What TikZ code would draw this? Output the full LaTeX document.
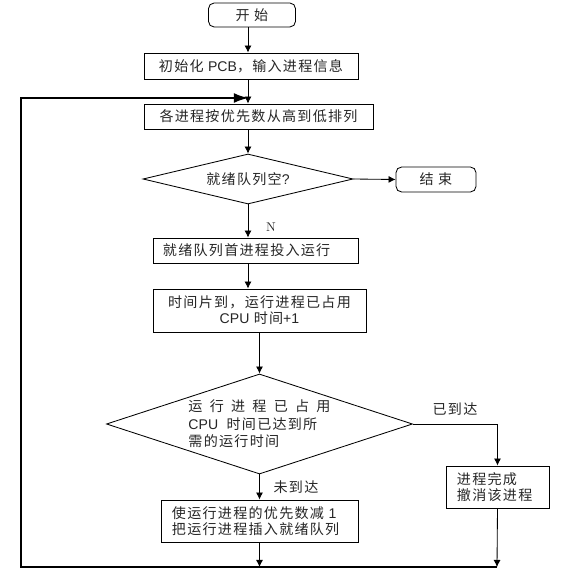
\documentclass[tikz,border=0pt]{standalone}
\usepackage{fontspec}
\newfontfamily\cjk[LetterSpace=9]{Noto Sans CJK SC}
\newfontfamily\enfont{Liberation Sans}
\newcommand{\en}[1]{{\enfont #1}}
\usetikzlibrary{shapes.geometric,arrows.meta}

\begin{document}
\begin{tikzpicture}[x=0.025cm,y=-0.025cm]
    \tikzstyle{every node}+=[inner sep=0pt, text=black!85, font=\cjk\fontsize{10}{11.5}\selectfont]
    \tikzstyle{proc}=[draw, rectangle, line width=0.6pt, align=center]
    \tikzstyle{term}=[proc, rounded corners=4pt]
    \tikzstyle{test}=[draw, diamond, aspect=3, line width=0.6pt]
    \tikzstyle{flow}=[-{Latex[length=5pt,width=5pt]}, line width=0.6pt]
    \tikzstyle{back}=[-{Latex[length=10pt,width=7pt]}, line width=1pt]
    \useasboundingbox (0,0) rectangle (586,578);
    % main column
    \node [term, minimum width=2.175cm, minimum height=0.6cm] (start) at (252,15) {开 始};
    \node [proc, minimum width=5.35cm, minimum height=0.65cm] (init) at (251,66) {初始化 \en{PCB}，输入进程信息};
    \node [proc, minimum width=5.725cm, minimum height=0.625cm] (sort) at (258.5,116.5) {各进程按优先数从高到低排列};
    \node [test, minimum width=5.25cm, minimum height=1.25cm] (empty) at (248,179) {就绪队列空\en{?}};
    \node [term, minimum width=2cm, minimum height=0.625cm] (stop) at (436,179.5) {结 束};
    \node [proc, minimum width=5.125cm, minimum height=0.625cm, text width=4.625cm, align=left] (run) at (255.5,250.5) {就绪队列首进程投入运行};
    \node [proc, minimum width=5.325cm, minimum height=1.075cm] (tick) at (259.5,310.5) {时间片到，运行进程已占用\\\en{CPU} 时间\en{+1}};
    \node [test, minimum width=7.65cm, minimum height=2.5cm, text width=3.55cm, align=left,
           font=\cjk\fontsize{10}{12.5}\selectfont] (reach) at (259.5,424)
        {\makebox[3.55cm]{运\hfill 行\hfill 进\hfill 程\hfill 已\hfill 占\hfill 用}\\
         \en{CPU}\hspace{0.6em}时间已达到所\\
         需的运行时间};
    \node [proc, minimum width=2.575cm, minimum height=1.05cm, text width=2.025cm, align=left] (finish) at (497.5,487) {进程完成\\撤消该进程};
    \node [proc, minimum width=4.925cm, minimum height=1.05cm, text width=4.375cm, align=left] (requeue) at (259.5,521) {使运行进程的优先数减 \en{1}\\把运行进程插入就绪队列};
    % branch labels
    \node [font=\rmfamily\fontsize{9}{10}\selectfont] (no) at (271,227) {N};
    \node (yes2) at (455,409) {已到达};
    \node (no2) at (296,487) {未到达};
    % loop corners
    \coordinate (br) at (497,567);
    \coordinate (bl) at (21,567);
    \coordinate (tl) at (21,98);
    \coordinate (merge) at (248,98);
    % connectors
    \draw [flow] (start.south -| empty.north) -- (init.north -| empty.north);
    \draw [flow] (init.south -| empty.north) -- (sort.north -| empty.north);
    \draw [flow] (sort.south -| empty.north) -- (empty.north);
    \draw [flow] (empty.east) -- (stop.west);
    \draw [flow] (empty.south) -- (run.north -| empty.south);
    \draw [flow] (run.south -| merge) -- (tick.north -| merge);
    \draw [flow] (tick.south -| reach.north) -- (reach.north);
    \draw [flow] (reach.east) -| (finish.north);
    \draw [flow] (reach.south) -- (requeue.north -| reach.south);
    \draw [flow] (requeue.south -| tick.south) -- (br -| tick.south);
    \draw [flow] (finish.south) -- (br);
    \draw [back] (br) -- (bl) -- (tl) -- (merge);
\end{tikzpicture}
\end{document}
